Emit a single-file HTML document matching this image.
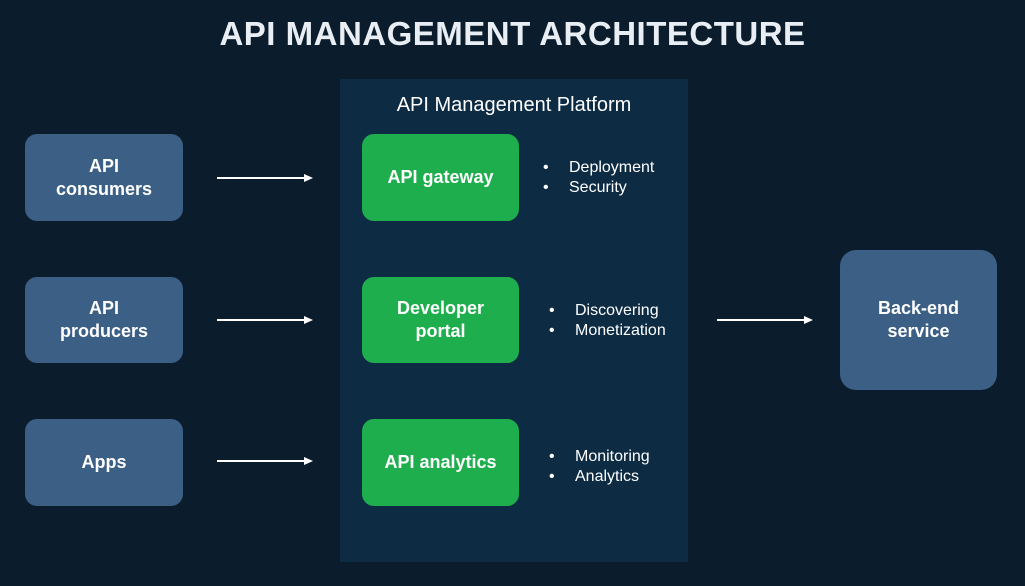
<!DOCTYPE html>
<html><head><style>
body{margin:0;width:1025px;height:586px;background:#0b1d2c;position:relative;overflow:hidden;font-family:"Liberation Sans",sans-serif;color:#fff}
.a{position:absolute}
.box{position:absolute;display:flex;align-items:center;justify-content:center;text-align:center;border-radius:12px;font-weight:bold;font-size:18px;line-height:23px}
.blue{background:#3b5f85}
.green{background:#1fae4d}
.line{position:absolute;height:2px;background:#fff}
.head{position:absolute;width:0;height:0;border-left:9px solid #fff;border-top:4px solid transparent;border-bottom:4px solid transparent}
ul{position:absolute;margin:0;padding:0 0 0 0;list-style:none;font-size:16px;line-height:20px}
li:before{content:"•";display:inline-block;width:26px;text-align:left}
</style></head><body>
<div class="a" style="left:0;width:1025px;top:15px;text-align:center;font-size:33px;font-weight:bold;letter-spacing:0.5px;color:#e8eef3">API MANAGEMENT ARCHITECTURE</div>
<div class="a" style="left:340px;top:79px;width:348px;height:483px;background:#0d2c44"></div>
<div class="a" style="left:340px;width:348px;top:94px;text-align:center;font-size:20px">API Management Platform</div>
<div class="box blue" style="left:25px;top:134px;width:158px;height:87px">API<br>consumers</div>
<div class="box blue" style="left:25px;top:277px;width:158px;height:86px">API<br>producers</div>
<div class="box blue" style="left:25px;top:419px;width:158px;height:87px">Apps</div>
<div class="box green" style="left:362px;top:134px;width:157px;height:87px">API gateway</div>
<div class="box green" style="left:362px;top:277px;width:157px;height:86px">Developer<br>portal</div>
<div class="box green" style="left:362px;top:419px;width:157px;height:87px">API analytics</div>
<div class="box blue" style="left:840px;top:250px;width:157px;height:140px;border-radius:16px">Back-end<br>service</div>
<div class="line" style="left:217px;top:177px;width:88px"></div><div class="head" style="left:304px;top:174px"></div>
<div class="line" style="left:217px;top:319px;width:88px"></div><div class="head" style="left:304px;top:316px"></div>
<div class="line" style="left:217px;top:460px;width:88px"></div><div class="head" style="left:304px;top:457px"></div>
<div class="line" style="left:717px;top:319px;width:88px"></div><div class="head" style="left:804px;top:316px"></div>
<ul style="left:543px;top:158px"><li>Deployment</li><li>Security</li></ul>
<ul style="left:549px;top:301px"><li>Discovering</li><li>Monetization</li></ul>
<ul style="left:549px;top:447px"><li>Monitoring</li><li>Analytics</li></ul>
</body></html>
